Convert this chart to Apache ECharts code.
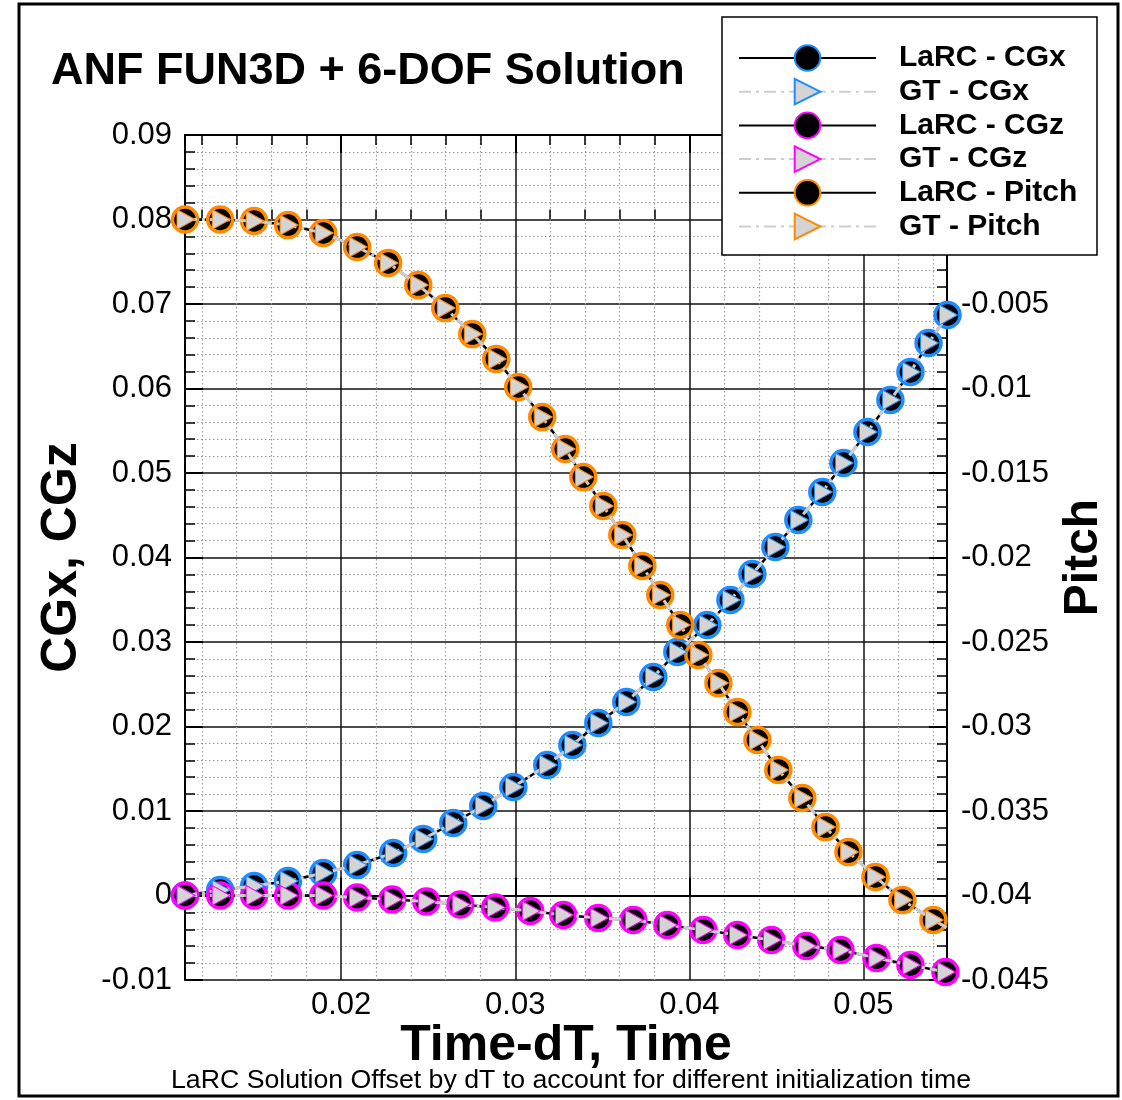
<!DOCTYPE html>
<html>
<head>
<meta charset="utf-8">
<script src="https://cdn.jsdelivr.net/npm/echarts@6/dist/echarts.min.js"></script>
<style>
  html, body { margin: 0; padding: 0; background: #fff; }
  #chart { width: 1122px; height: 1100px; }
</style>
</head>
<body>
<div id="chart"></div>
<script>
var chart = echarts.init(document.getElementById('chart'));

// CGx (LaRC and GT markers sit on top of each other)
var cgxTime = [0.01103, 0.01305, 0.0150, 0.01695, 0.01897, 0.02092, 0.02299, 0.02471, 0.02644, 0.02816,
    0.02989, 0.03184, 0.03328, 0.03477, 0.03638, 0.03793, 0.03931, 0.04103, 0.04236, 0.04362,
    0.04494, 0.04626, 0.04764, 0.04885, 0.05023, 0.05155, 0.05270, 0.05374, 0.05483];
var cgxValue = [0.0, 0.00065, 0.00112, 0.00172, 0.00266, 0.00361, 0.00503, 0.00669, 0.00858, 0.01059,
    0.01284, 0.01544, 0.01781, 0.02041, 0.0229, 0.02586, 0.02882, 0.03201, 0.03497, 0.03805,
    0.04124, 0.04444, 0.04775, 0.05118, 0.05485, 0.05864, 0.06195, 0.06538, 0.0687];

// CGz
var cgzTime = [0.01103, 0.01305, 0.0150, 0.01695, 0.01897, 0.02092, 0.02293, 0.02489, 0.02684, 0.02885,
    0.03086, 0.03276, 0.03477, 0.03678, 0.03874, 0.0408, 0.04276, 0.04471, 0.04672, 0.04868,
    0.05075, 0.0527, 0.05471];
var cgzValue = [0, 0, 0, 0, 0, -0.00024, -0.00047, -0.00071, -0.00107, -0.00142,
    -0.00183, -0.00231, -0.00266, -0.0029, -0.00349, -0.00408, -0.00467, -0.00527, -0.00598, -0.00645,
    -0.0074, -0.00822, -0.00905];

// Pitch (right axis); last entry is the line end, no marker
var pitchTime = [0.01103, 0.01305, 0.0150, 0.01695, 0.01897, 0.02092, 0.0227, 0.02443, 0.02598, 0.02753,
    0.02891, 0.03017, 0.03155, 0.03287, 0.03391, 0.03506, 0.03615, 0.0373, 0.03833, 0.03948,
    0.04052, 0.04167, 0.04276, 0.04391, 0.04511, 0.04649, 0.04782, 0.04914, 0.05069, 0.05224,
    0.05402, 0.0548];
var pitchValue = [0, 0, -0.00009, -0.00033, -0.0008, -0.00163, -0.00257, -0.00388, -0.00524, -0.00678,
    -0.00825, -0.00991, -0.01169, -0.01358, -0.01524, -0.01695, -0.01867, -0.0205, -0.02222, -0.02399,
    -0.02577, -0.02743, -0.02914, -0.0308, -0.03257, -0.03423, -0.03595, -0.03743, -0.0389, -0.04027,
    -0.04145, -0.0419];

var xMajorTicks = [0.02, 0.03, 0.04, 0.05];
var xMinorTicks = [0.012, 0.014, 0.016, 0.018, 0.022, 0.024, 0.026, 0.028, 0.032, 0.034, 0.036, 0.038,
    0.042, 0.044, 0.046, 0.048, 0.052, 0.054];

var xMin = 0.01103, xMax = 0.0548;
var FONT = "'Liberation Sans', Arial, Helvetica, sans-serif";

var pairs = function (xs, ys, lastBare) {
    var res = [];
    for (var i = 0; i < xs.length; i++) {
        if (lastBare && i === xs.length - 1) {
            res.push({ value: [xs[i], ys[i]], symbol: 'none' });
        } else {
            res.push([xs[i], ys[i]]);
        }
    }
    return res;
};

var tri = 'path://M0,0L10,5L0,10Z';
var larc = function (name, color, data, yIdx) {
    return {
        name: name, type: 'line', xAxisIndex: 0, yAxisIndex: yIdx, data: data,
        symbol: 'circle', symbolSize: 25, clip: false, z: 2,
        lineStyle: { color: '#000', width: 2.5 },
        itemStyle: { color: '#000', borderColor: color, borderWidth: 3.5 }
    };
};
var gt = function (name, color, data, yIdx) {
    return {
        name: name, type: 'line', xAxisIndex: 0, yAxisIndex: yIdx, data: data,
        symbol: tri, symbolSize: [18, 20], symbolOffset: [1, 0], clip: false, z: 3,
        lineStyle: { color: '#cdcdcd', width: 3, type: [12, 5, 3, 5] },
        itemStyle: { color: '#d4d4d4', borderColor: color, borderWidth: 1, opacity: 1 }
    };
};

var BLUE = '#1e8cff', MAGENTA = '#ff00ff', ORANGE = '#ff8a00';

var xBase = function (extra) {
    var a = {
        type: 'value', min: xMin, max: xMax, position: 'bottom',
        axisLine: { show: false }, axisLabel: { show: false },
        axisTick: { show: false }, splitLine: { show: false }
    };
    for (var k in extra) a[k] = extra[k];
    return a;
};

var minorGrid = { color: '#9a9a9a', width: 1.2, type: [1.5, 2.5] };

option = {
    animation: false,
    backgroundColor: '#fff',
    textStyle: { fontFamily: FONT, color: '#000' },
    title: [
        {
            text: 'ANF FUN3D + 6-DOF Solution', left: 46, top: 44,
            textStyle: { fontFamily: FONT, fontSize: 45, fontWeight: 'bold', color: '#000' }
        },
        {
            text: 'LaRC Solution Offset by dT to account for different initialization time',
            left: 166, top: 1062,
            textStyle: { fontFamily: FONT, fontSize: 26.7, fontWeight: 'normal', color: '#000' }
        }
    ],
    grid: { left: 185, right: 175, top: 135, bottom: 120, outerBoundsMode: 'none' },
    legend: {
        orient: 'vertical', left: 738, top: 43, padding: 0, z: 5,
        itemWidth: 137, itemHeight: 32, itemGap: 3.7,
        selectedMode: false,
        textStyle: { fontFamily: FONT, fontSize: 30, fontWeight: 'bold', color: '#000', padding: [0, 0, 0, 18] },
        data: ['LaRC - CGx', 'GT - CGx', 'LaRC - CGz', 'GT - CGz', 'LaRC - Pitch', 'GT - Pitch']
    },
    graphic: [
        {
            type: 'rect', z: 4, shape: { x: 722, y: 17, width: 375, height: 238 },
            style: { fill: '#fff', stroke: '#000', lineWidth: 1.5 }
        },
        {
            type: 'rect', z: 0, shape: { x: 19, y: 4, width: 1099, height: 1092 },
            style: { fill: 'none', stroke: '#000', lineWidth: 3 }
        }
    ],
    xAxis: [
        xBase({
            name: 'Time-dT, Time', nameLocation: 'middle', nameGap: 41, nameMoveOverlap: false,
            nameTextStyle: { fontFamily: FONT, fontSize: 50, fontWeight: 'bold', color: '#000' },
            axisLine: { show: true, lineStyle: { color: '#000', width: 2 } },
            axisTick: { show: true, inside: true, length: 18, customValues: xMajorTicks, lineStyle: { color: '#000', width: 2 } },
            axisLabel: { show: true, customValues: xMajorTicks, margin: 10, fontSize: 31, color: '#000', fontFamily: FONT },
            splitLine: { show: true, lineStyle: { color: '#111', width: 1.5 } }
        }),
        xBase({
            axisTick: { show: true, inside: true, length: 10, customValues: xMinorTicks, lineStyle: { color: '#000', width: 1.5 } },
            splitLine: { show: true, lineStyle: minorGrid }
        }),
        xBase({
            position: 'top',
            axisLine: { show: true, lineStyle: { color: '#000', width: 2 } },
            axisTick: { show: true, inside: true, length: 18, customValues: xMajorTicks, lineStyle: { color: '#000', width: 2 } }
        }),
        xBase({
            position: 'top',
            axisTick: { show: true, inside: true, length: 10, customValues: xMinorTicks, lineStyle: { color: '#000', width: 1.5 } }
        })
    ],
    yAxis: [
        {
            type: 'value', min: -0.01, max: 0.09, interval: 0.01, position: 'left',
            name: 'CGx, CGz', nameLocation: 'middle', nameGap: 98, nameRotate: 90,
            nameTextStyle: { fontFamily: FONT, fontSize: 50, fontWeight: 'bold', color: '#000' },
            axisLine: { show: true, lineStyle: { color: '#000', width: 2 } },
            axisTick: { show: true, inside: true, length: 18, lineStyle: { color: '#000', width: 2 } },
            minorTick: { show: true, splitNumber: 5, length: 10, lineStyle: { color: '#000', width: 1.5 } },
            axisLabel: { margin: 13, fontSize: 31, color: '#000', fontFamily: FONT },
            splitLine: { show: true, lineStyle: { color: '#111', width: 1.5 } },
            minorSplitLine: { show: true, lineStyle: minorGrid }
        },
        {
            type: 'value', min: -0.045, max: 0.005, interval: 0.005, position: 'right',
            name: 'Pitch', nameLocation: 'middle', nameGap: 112, nameRotate: 90,
            nameTextStyle: { fontFamily: FONT, fontSize: 48, fontWeight: 'bold', color: '#000' },
            axisLine: { show: true, lineStyle: { color: '#000', width: 2 } },
            axisTick: { show: true, inside: true, length: 18, lineStyle: { color: '#000', width: 2 } },
            minorTick: { show: true, splitNumber: 5, length: 10, lineStyle: { color: '#000', width: 1.5 } },
            axisLabel: {
                margin: 14, fontSize: 31, color: '#000', fontFamily: FONT,
                formatter: function (v) { return v > -0.004 ? '' : String(+v.toFixed(3)); }
            },
            splitLine: { show: false }
        }
    ],
    series: [
        larc('LaRC - CGx', BLUE, pairs(cgxTime, cgxValue), 0),
        gt('GT - CGx', BLUE, pairs(cgxTime, cgxValue), 0),
        larc('LaRC - CGz', MAGENTA, pairs(cgzTime, cgzValue), 0),
        gt('GT - CGz', MAGENTA, pairs(cgzTime, cgzValue), 0),
        larc('LaRC - Pitch', ORANGE, pairs(pitchTime, pitchValue, true), 1),
        gt('GT - Pitch', ORANGE, pairs(pitchTime, pitchValue, true), 1)
    ]
};

chart.setOption(option);
</script>
</body>
</html>
